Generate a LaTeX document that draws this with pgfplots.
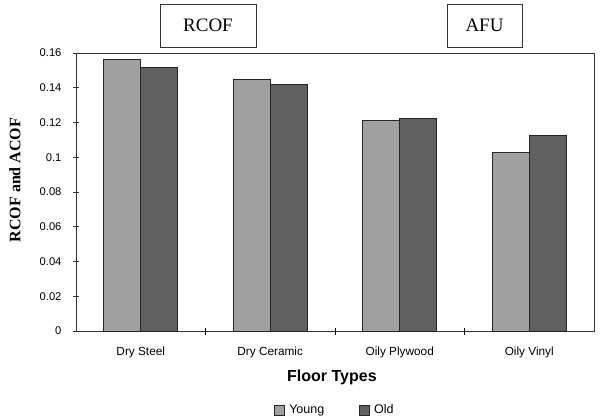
\documentclass[border=0pt]{standalone}
\usepackage{fontspec}
\setmainfont{Liberation Serif}
\newfontfamily\arial{Liberation Sans}
\usepackage{pgfplots}
\pgfplotsset{compat=1.18}
\definecolor{young}{HTML}{A0A0A0}
\definecolor{old}{HTML}{606060}
\begin{document}
\begin{tikzpicture}
  \begin{axis}[
      at={(0,0)}, anchor=south west,
      scale only axis,
      width=518pt, height=278pt,
      xmin=0, xmax=4,
      ymin=0, ymax=0.16,
      ytick={0,0.02,...,0.16},
      xtick={0.5,1.5,2.5,3.5},
      xticklabels={Dry Steel, Dry Ceramic, Oily Plywood, Oily Vinyl},
      x tick style={draw=none},
      extra x ticks={1,2,3},
      extra x tick labels={},
      extra x tick style={x tick style={draw=black}, major tick length=7pt, tick align=center},
      major tick length=6pt,
      tick align=center,
      ytick pos=left, xtick pos=bottom,
      axis line style={black!80, line width=0.8pt},
      tick style={black!80, line width=0.8pt},
      yticklabel style={/pgf/number format/fixed, /pgf/number format/precision=2, font=\arial\fontsize{11.2}{13}\selectfont, xshift=-8pt},
      xticklabel style={font=\arial\fontsize{11.8}{14}\selectfont, yshift=-6pt},
      /pgf/number format/assume math mode=true,
      scaled y ticks=false,
      xlabel={\arial\bfseries\fontsize{16}{18}\selectfont Floor Types},
      xlabel style={at={(axis description cs:0.494,-0.165)}, anchor=center},
      ylabel={\bfseries\fontsize{16}{18}\selectfont RCOF and ACOF},
      ylabel style={at={(axis description cs:-0.118,0.543)}, anchor=center, rotate=0},
      ybar,
      bar width=37pt,
      legend style={at={(axis description cs:0.5,-0.284)}, anchor=center, draw=none,
        legend columns=2, font=\arial\fontsize{12.5}{14}\selectfont,
        /tikz/every odd column/.append style={column sep=2pt},
        /tikz/every even column/.append style={column sep=33pt}},
      legend image code/.code={\draw[#1, line width=0.8pt] (0pt,-5pt) rectangle (10pt,5pt);},
    ]
    \addplot[fill=young, draw=black!85, line width=0.8pt, bar shift=-18.5pt] coordinates {
      (0.5,0.1565) (1.5,0.1450) (2.5,0.1210) (3.5,0.1030)
    };
    \addplot[fill=old, draw=black!85, line width=0.8pt, bar shift=18.5pt] coordinates {
      (0.5,0.1515) (1.5,0.1420) (2.5,0.1222) (3.5,0.1126)
    };
    \legend{Young, Old}
  \end{axis}
  \node[draw=black!80, line width=0.8pt, minimum width=96pt, minimum height=43pt, font=\fontsize{19}{21}\selectfont] at (132pt,305.5pt) {RCOF};
  \node[draw=black!80, line width=0.8pt, minimum width=75pt, minimum height=43pt, font=\fontsize{19}{21}\selectfont] at (408.5pt,305.5pt) {AFU};
  \path[use as bounding box] (-76pt,-89pt) rectangle (526pt,331pt);
\end{tikzpicture}
\end{document}
